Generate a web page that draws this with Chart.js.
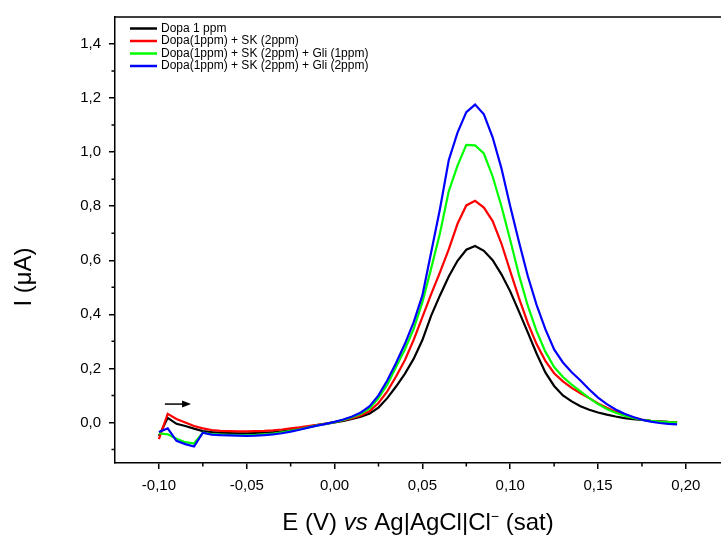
<!DOCTYPE html>
<html>
<head>
<meta charset="utf-8">
<script src="https://cdn.jsdelivr.net/npm/chart.js@4.4.0/dist/chart.umd.min.js"></script>
<style>
  html, body { margin: 0; padding: 0; background: #fff; }
  #wrap { width: 721px; height: 538px; }
</style>
</head>
<body>
<div id="wrap"><canvas id="thecanvas" width="721" height="538"></canvas></div>
<script>
// potential (V) and currents (uA)
const potential = [-0.100, -0.095, -0.090, -0.085, -0.080, -0.075, -0.070, -0.065, -0.060, -0.055,
  -0.050, -0.045, -0.040, -0.035, -0.030, -0.025, -0.020, -0.015, -0.010, -0.005,
  0.000, 0.005, 0.010, 0.015, 0.020, 0.025, 0.030, 0.035, 0.040, 0.045,
  0.050, 0.055, 0.060, 0.065, 0.070, 0.075, 0.080, 0.085, 0.090, 0.095,
  0.100, 0.105, 0.110, 0.115, 0.120, 0.125, 0.130, 0.135, 0.140, 0.145,
  0.150, 0.155, 0.160, 0.165, 0.170, 0.175, 0.180, 0.185, 0.190, 0.195];

const dopa = [-0.050, 0.017, -0.005, -0.013, -0.023, -0.032, -0.036, -0.038, -0.039, -0.040,
  -0.040, -0.039, -0.038, -0.036, -0.033, -0.028, -0.022, -0.016, -0.010, -0.005,
  0.000, 0.006, 0.013, 0.021, 0.033, 0.055, 0.090, 0.133, 0.180, 0.235,
  0.305, 0.395, 0.470, 0.540, 0.598, 0.639, 0.653, 0.635, 0.600, 0.548,
  0.485, 0.410, 0.333, 0.255, 0.185, 0.135, 0.100, 0.078, 0.060, 0.047,
  0.037, 0.029, 0.022, 0.016, 0.012, 0.009, 0.006, 0.004, 0.002, 0.001];

const dopask = [-0.062, 0.032, 0.013, 0.000, -0.013, -0.022, -0.028, -0.031, -0.032, -0.033,
  -0.033, -0.032, -0.031, -0.029, -0.026, -0.022, -0.018, -0.013, -0.009, -0.004,
  0.001, 0.008, 0.016, 0.026, 0.042, 0.072, 0.115, 0.170, 0.230, 0.305,
  0.390, 0.475, 0.555, 0.640, 0.735, 0.803, 0.820, 0.795, 0.745, 0.662,
  0.560, 0.460, 0.368, 0.290, 0.228, 0.182, 0.152, 0.128, 0.108, 0.090,
  0.070, 0.054, 0.040, 0.028, 0.018, 0.011, 0.006, 0.003, 0.001, 0.000];

const dopaskgli1 = [-0.040, -0.044, -0.060, -0.073, -0.078, -0.038, -0.043, -0.045, -0.046, -0.047,
  -0.047, -0.046, -0.044, -0.041, -0.037, -0.031, -0.025, -0.018, -0.011, -0.005,
  0.001, 0.009, 0.019, 0.032, 0.052, 0.090, 0.140, 0.205, 0.270, 0.345,
  0.445, 0.570, 0.700, 0.855, 0.950, 1.027, 1.025, 0.995, 0.910, 0.800,
  0.675, 0.545, 0.432, 0.338, 0.262, 0.205, 0.168, 0.140, 0.115, 0.090,
  0.068, 0.050, 0.036, 0.025, 0.017, 0.010, 0.006, 0.003, 0.001, 0.000];

const dopaskgli2 = [-0.035, -0.022, -0.068, -0.080, -0.089, -0.038, -0.045, -0.047, -0.048, -0.049,
  -0.050, -0.049, -0.047, -0.044, -0.040, -0.034, -0.027, -0.019, -0.012, -0.005,
  0.002, 0.011, 0.022, 0.037, 0.060, 0.100, 0.155, 0.220, 0.290, 0.370,
  0.470, 0.630, 0.790, 0.970, 1.072, 1.148, 1.176, 1.140, 1.055, 0.940,
  0.800, 0.668, 0.542, 0.435, 0.345, 0.270, 0.222, 0.186, 0.155, 0.122,
  0.092, 0.068, 0.048, 0.032, 0.020, 0.010, 0.003, -0.002, -0.005, -0.007];

const seriesnames = ['Dopa 1 ppm', 'Dopa(1ppm) + SK (2ppm)', 'Dopa(1ppm) + SK (2ppm) + Gli (1ppm)', 'Dopa(1ppm) + SK (2ppm) + Gli (2ppm)'];
const seriescolors = ['#000000', '#ff0000', '#00ff00', '#0000ff'];

const xticks = [-0.10, -0.05, 0.00, 0.05, 0.10, 0.15, 0.20];
const xminor = [-0.075, -0.025, 0.025, 0.075, 0.125, 0.175];
const yticks = [0.0, 0.2, 0.4, 0.6, 0.8, 1.0, 1.2, 1.4];
const yminor = [-0.1, 0.1, 0.3, 0.5, 0.7, 0.9, 1.1, 1.3];

const fam = 'Arial, "Liberation Sans", sans-serif';

function topoints(vals) {
  const pts = [];
  for (let i = 0; i < vals.length; i++) {
    pts.push({ x: potential[i], y: vals[i] });
  }
  return pts;
}

const allseries = [dopa, dopask, dopaskgli1, dopaskgli2];
const datasets = allseries.map(function (vals, i) {
  return {
    label: seriesnames[i],
    data: topoints(vals),
    borderColor: seriescolors[i],
    backgroundColor: seriescolors[i],
    borderWidth: 2.2,
    pointRadius: 0,
    tension: 0,
    order: 3 - i
  };
});

// frame, minor ticks, legend, arrow and titles
const extras = {
  id: 'extras',
  afterDraw(chart) {
    const c = chart.ctx;
    const a = chart.chartArea;
    const xs = chart.scales.x;
    const ys = chart.scales.y;
    c.save();
    c.strokeStyle = '#000';
    c.lineWidth = 1.5;
    c.beginPath();
    c.moveTo(a.left, a.top);
    c.lineTo(a.right, a.top);
    c.stroke();

    c.beginPath();
    xminor.forEach(function (v) {
      const px = xs.getPixelForValue(v);
      c.moveTo(px, a.bottom);
      c.lineTo(px, a.bottom + 3.5);
    });
    yminor.forEach(function (v) {
      const py = ys.getPixelForValue(v);
      c.moveTo(a.left - 3.5, py);
      c.lineTo(a.left, py);
    });
    c.stroke();

    // legend inside the plot
    c.font = '12px ' + fam;
    c.textBaseline = 'middle';
    c.textAlign = 'left';
    chart.data.datasets.forEach(function (ds, i) {
      const y = 28.5 + i * 12.5;
      c.strokeStyle = ds.borderColor;
      c.lineWidth = 2.5;
      c.beginPath();
      c.moveTo(130, y);
      c.lineTo(157, y);
      c.stroke();
      c.fillStyle = '#000';
      c.fillText(ds.label, 161, y);
    });

    // scan direction arrow
    const ax1 = xs.getPixelForValue(-0.0966);
    const ax2 = xs.getPixelForValue(-0.0817);
    const ay = ys.getPixelForValue(0.068);
    c.strokeStyle = '#000';
    c.fillStyle = '#000';
    c.lineWidth = 1.5;
    c.beginPath();
    c.moveTo(ax1, ay);
    c.lineTo(ax2 - 6, ay);
    c.stroke();
    c.beginPath();
    c.moveTo(ax2, ay);
    c.lineTo(ax2 - 9, ay - 3.5);
    c.lineTo(ax2 - 9, ay + 3.5);
    c.closePath();
    c.fill();

    // y title
    c.save();
    c.translate(24, 277);
    c.rotate(-Math.PI / 2);
    c.font = '24px ' + fam;
    c.textAlign = 'center';
    c.textBaseline = 'middle';
    c.fillText('I (\u03bcA)', 0, 0);
    c.restore();

    // x title with italic vs
    const parts = [
      { t: 'E (V) ', f: '24px ' + fam, dy: 0 },
      { t: 'vs', f: 'italic 24px ' + fam, dy: 0 },
      { t: ' Ag|AgCl|Cl', f: '24px ' + fam, dy: 0 },
      { t: '\u2212', f: '14px ' + fam, dy: -9 },
      { t: ' (sat)', f: '24px ' + fam, dy: 0 }
    ];
    let total = 0;
    parts.forEach(function (p) { c.font = p.f; p.w = c.measureText(p.t).width; total += p.w; });
    let tx = 418 - total / 2;
    c.textAlign = 'left';
    c.textBaseline = 'alphabetic';
    parts.forEach(function (p) {
      c.font = p.f;
      c.fillText(p.t, tx, 530 + p.dy);
      tx += p.w;
    });
    c.restore();
  }
};

function commafmt(v, d) {
  return v.toFixed(d).replace('.', ',');
}

const ctx = document.getElementById('thecanvas');
const mychart = new Chart(ctx, {
  type: 'line',
  data: { datasets: datasets },
  options: {
    responsive: false,
    animation: false,
    devicePixelRatio: 1,
    layout: { padding: { top: 12, left: 0, right: 0, bottom: 0 } },
    plugins: {
      legend: { display: false },
      tooltip: { enabled: false }
    },
    scales: {
      x: {
        type: 'linear',
        min: -0.125,
        max: 0.22,
        afterFit: function (s) { s.height = 75; },
        afterBuildTicks: function (s) { s.ticks = xticks.map(function (v) { return { value: v }; }); },
        ticks: {
          color: '#000',
          font: { family: fam, size: 15 },
          padding: 8,
          maxRotation: 0,
          autoSkip: false,
          callback: function (v) { return commafmt(v, 2); }
        },
        grid: { drawOnChartArea: false, drawTicks: true, tickLength: 6, color: '#000', lineWidth: 1.5 },
        border: { display: true, color: '#000', width: 1.5 }
      },
      y: {
        type: 'linear',
        min: -0.15,
        max: 1.5,
        afterFit: function (s) { s.width = 115; },
        afterBuildTicks: function (s) { s.ticks = yticks.map(function (v) { return { value: v }; }); },
        ticks: {
          color: '#000',
          font: { family: fam, size: 15 },
          padding: 8,
          autoSkip: false,
          callback: function (v) { return commafmt(v, 1); }
        },
        grid: { drawOnChartArea: false, drawTicks: true, tickLength: 6, color: '#000', lineWidth: 1.5 },
        border: { display: true, color: '#000', width: 1.5 }
      }
    }
  },
  plugins: [extras]
});
</script>
</body>
</html>
